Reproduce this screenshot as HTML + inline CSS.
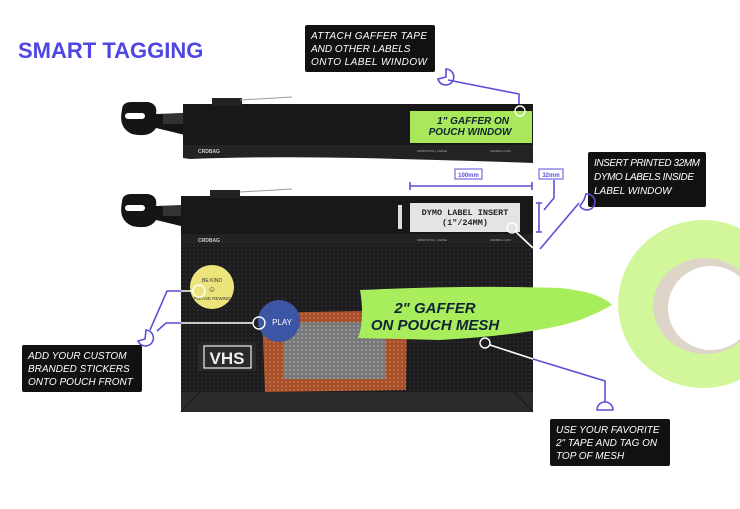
<!DOCTYPE html>
<html><head><meta charset="utf-8"><style>
html,body{margin:0;padding:0;background:#fff;}
svg{display:block;}
.lbl{font-family:"Liberation Sans",sans-serif;font-style:italic;font-size:10px;fill:#fff;}
.pc{stroke:#5a4fd8;stroke-width:1.6;fill:none;}
.wc{stroke:#fff;stroke-width:1.6;fill:none;}
</style></head><body>
<svg width="740" height="509" viewBox="0 0 740 509" xmlns="http://www.w3.org/2000/svg">
<defs>
<pattern id="mesh" width="4" height="4" patternUnits="userSpaceOnUse"><rect width="4" height="4" fill="#1c1c1e"/><circle cx="2" cy="2" r="1.1" fill="#2a2a2d"/></pattern>
<pattern id="omesh" width="4" height="4" patternUnits="userSpaceOnUse"><rect width="4" height="4" fill="#a3502c"/><circle cx="2" cy="2" r="1.1" fill="#c9683a"/></pattern>
<pattern id="gmesh" width="4" height="4" patternUnits="userSpaceOnUse"><rect width="4" height="4" fill="#777"/><circle cx="2" cy="2" r="1.1" fill="#9a9a9a"/></pattern>
</defs>
<text x="18" y="58" font-family="Liberation Sans,sans-serif" font-weight="bold" font-size="22" fill="#4f47e3">SMART TAGGING</text>

<!-- top label -->
<rect x="305" y="25" width="130" height="47" rx="2" fill="#111"/>
<text class="lbl" x="311" y="39" textLength="116">ATTACH GAFFER TAPE</text>
<text class="lbl" x="311" y="52">AND OTHER LABELS</text>
<text class="lbl" x="311" y="65" textLength="116">ONTO LABEL WINDOW</text>
<path class="pc" d="M448,80 L519,94 L519,107"/>
<path class="pc" d="M446,69 A8,8 0 1 1 438,79 L446,77 Z"/>

<!-- top pouch -->
<g>
<path d="M122,110 Q122,102 132,102 L148,102 Q158,104 156,114 L185,113 L185,135 L156,128 Q150,138 132,134 Q118,128 122,110 Z" fill="#151515"/>
<rect x="125" y="113" width="20" height="6" rx="3" fill="#fff"/>
<rect x="163" y="114" width="22" height="10" fill="#333"/>
<rect x="183" y="104" width="350" height="42" fill="#181818"/>
<rect x="212" y="98" width="30" height="8" fill="#222"/>
<path d="M240,100 L292,97" stroke="#999" stroke-width="1"/>
<path d="M183,145 L533,145 L533,163 Q450,160 360,158 Q270,156 190,159 L183,158 Z" fill="#232325"/>
<rect x="410" y="111" width="122" height="32" fill="#a8e85a"/>
<text x="473" y="124" text-anchor="middle" font-family="Liberation Sans,sans-serif" font-style="italic" font-weight="bold" font-size="10" fill="#123">1" GAFFER ON</text>
<text x="470" y="135" text-anchor="middle" font-family="Liberation Sans,sans-serif" font-style="italic" font-weight="bold" font-size="10" fill="#123">POUCH WINDOW</text>
<circle cx="520" cy="111" r="5" fill="none" stroke="#fff" stroke-width="1.4"/>
<text x="198" y="153" font-family="Liberation Sans,sans-serif" font-weight="bold" font-size="5" fill="#ccc">CRDBAG</text>
<text x="417" y="152" font-family="Liberation Sans,sans-serif" font-size="3" fill="#aaa">CRDPOUCH | LARGE</text>
<text x="490" y="152" font-family="Liberation Sans,sans-serif" font-size="3" fill="#aaa">CRDBAG.COM</text>
</g>

<!-- dimensions -->
<rect x="455" y="169" width="27" height="10" fill="#fff" stroke="#5a4fd8"/>
<text x="468.5" y="177" text-anchor="middle" font-family="Liberation Sans,sans-serif" font-size="6" font-weight="bold" fill="#5a4fd8">100mm</text>
<path class="pc" d="M410,186 L532,186 M410,182 L410,190 M532,182 L532,190"/>
<rect x="539" y="169" width="24" height="10" fill="#fff" stroke="#5a4fd8"/>
<text x="551" y="177" text-anchor="middle" font-family="Liberation Sans,sans-serif" font-size="6" font-weight="bold" fill="#5a4fd8">32mm</text>
<path class="pc" d="M539,203 L539,232 M536,203 L542,203 M536,232 L542,232 M544,210 L554,198 L554,180"/>

<!-- insert label -->
<rect x="588" y="152" width="118" height="55" rx="2" fill="#111"/>
<text class="lbl" x="594" y="166" textLength="106">INSERT PRINTED 32MM</text>
<text class="lbl" x="594" y="180" textLength="100">DYMO LABELS INSIDE</text>
<text class="lbl" x="594" y="194">LABEL WINDOW</text>
<path class="pc" d="M579,203 L540,249"/>
<path class="pc" d="M586,194 A8,8 0 1 1 580,206 L584,200 Z"/>

<!-- tape roll -->
<ellipse cx="703" cy="304" rx="85" ry="84" fill="#d2f79a"/>
<ellipse cx="705" cy="306" rx="52" ry="48" fill="#ddd6c8"/>
<ellipse cx="711" cy="308" rx="43" ry="42" fill="#fff"/>

<!-- second pouch -->
<g>
<path d="M122,202 Q122,194 132,194 L148,194 Q158,196 156,206 L185,205 L185,227 L156,220 Q150,230 132,226 Q118,220 122,202 Z" fill="#151515"/>
<rect x="125" y="205" width="20" height="6" rx="3" fill="#fff"/>
<rect x="163" y="206" width="22" height="10" fill="#333"/>
<rect x="181" y="236" width="352" height="176" rx="2" fill="url(#mesh)"/>
<rect x="181" y="196" width="352" height="40" fill="#181818"/>
<rect x="210" y="190" width="30" height="8" fill="#222"/>
<path d="M240,192 L292,189" stroke="#999" stroke-width="1"/>
<rect x="181" y="234" width="352" height="10" fill="#232325"/>
<rect x="398" y="205" width="4" height="24" fill="#ddd"/>
<rect x="410" y="203" width="110" height="29" fill="#e4e4e4"/>
<text x="465" y="215" text-anchor="middle" font-family="Liberation Mono,monospace" font-weight="bold" font-size="8.5" fill="#222">DYMO LABEL INSERT</text>
<text x="465" y="225" text-anchor="middle" font-family="Liberation Mono,monospace" font-weight="bold" font-size="8.5" fill="#222">(1"/24MM)</text>
<circle cx="512" cy="228" r="5" fill="none" stroke="#fff" stroke-width="1.4"/>
<path class="wc" d="M516,232 L533,248"/>
<text x="198" y="242" font-family="Liberation Sans,sans-serif" font-weight="bold" font-size="5" fill="#ccc">CRDBAG</text>
<text x="417" y="241" font-family="Liberation Sans,sans-serif" font-size="3" fill="#aaa">CRDPOUCH | LARGE</text>
<text x="490" y="241" font-family="Liberation Sans,sans-serif" font-size="3" fill="#aaa">CRDBAG.COM</text>
<rect x="181" y="392" width="352" height="20" fill="#2b2b2d"/>
<path d="M181,412 L200,392 M533,412 L514,392" stroke="#1a1a1a"/>
<!-- stickers -->
<path d="M262,313 L407,310 L406,390 L265,392 Z" fill="url(#omesh)"/>
<rect x="283" y="322" width="103" height="57" fill="url(#gmesh)"/>
<circle cx="212" cy="287" r="22" fill="#ece47a"/>
<text x="212" y="282" text-anchor="middle" font-family="Liberation Sans,sans-serif" font-size="5" fill="#333">BE KIND</text>
<text x="212" y="292" text-anchor="middle" font-family="Liberation Sans,sans-serif" font-size="8" fill="#333">☺</text>
<text x="212" y="300" text-anchor="middle" font-family="Liberation Sans,sans-serif" font-size="4.5" fill="#333">PLEASE REWIND</text>
<circle cx="279" cy="321" r="21" fill="#3c55a5"/>
<text x="282" y="325" text-anchor="middle" font-family="Liberation Sans,sans-serif" font-size="8" fill="#fff">PLAY</text>
<rect x="198" y="343" width="58" height="28" fill="#2a2a2a"/>
<rect x="204" y="346" width="47" height="22" fill="none" stroke="#eee" stroke-width="1.2"/>
<text x="227" y="364" text-anchor="middle" font-family="Liberation Sans,sans-serif" font-weight="bold" font-size="17" fill="#eee">VHS</text>
</g>

<!-- green tape strip -->
<path d="M360,290 Q470,285 560,288 Q600,292 612,305 Q600,312 580,320 Q540,334 440,340 L358,338 Q365,320 360,290 Z" fill="#a8ee5c"/>
<text x="435" y="313" text-anchor="middle" font-family="Liberation Sans,sans-serif" font-style="italic" font-weight="bold" font-size="15" fill="#123">2" GAFFER</text>
<text x="435" y="330" text-anchor="middle" font-family="Liberation Sans,sans-serif" font-style="italic" font-weight="bold" font-size="15" fill="#123">ON POUCH MESH</text>
<circle cx="485" cy="343" r="5" fill="none" stroke="#fff" stroke-width="1.4"/>
<path class="wc" d="M490,345 L533,359"/>
<path class="pc" d="M533,359 L605,381 L605,402"/>
<path class="pc" d="M597,410 A8,8 0 0 1 613,410 Z"/>

<!-- left connectors -->
<circle cx="199" cy="291" r="6" fill="none" stroke="#fff" stroke-width="1.4"/>
<circle cx="259" cy="323" r="6" fill="none" stroke="#fff" stroke-width="1.4"/>
<path class="wc" d="M181,291 L193,291 M181,323 L253,323"/>
<path class="pc" d="M150,330 L167,291 L181,291 M157,331 L166,323 L181,323"/>
<path class="pc" d="M146,330 A8,8 0 1 1 138,341 L145,339 Z"/>
<rect x="22" y="345" width="120" height="47" rx="2" fill="#111"/>
<text class="lbl" x="28" y="359">ADD YOUR CUSTOM</text>
<text class="lbl" x="28" y="372">BRANDED STICKERS</text>
<text class="lbl" x="28" y="385">ONTO POUCH FRONT</text>

<rect x="550" y="419" width="120" height="47" rx="2" fill="#111"/>
<text class="lbl" x="556" y="433">USE YOUR FAVORITE</text>
<text class="lbl" x="556" y="446">2" TAPE AND TAG ON</text>
<text class="lbl" x="556" y="459">TOP OF MESH</text>
</svg>
</body></html>
